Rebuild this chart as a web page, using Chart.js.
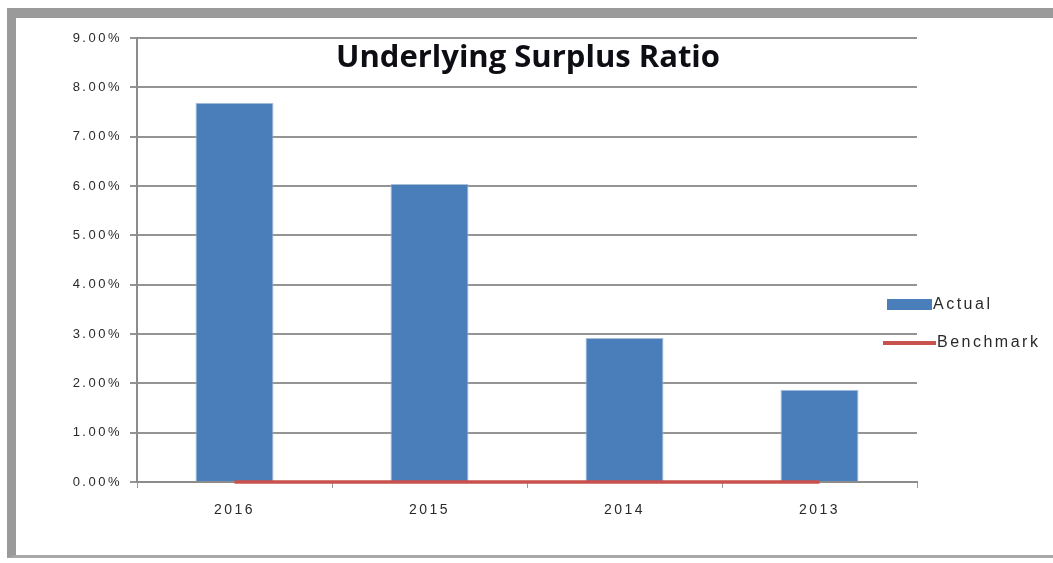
<!DOCTYPE html>
<html>
<head>
<meta charset="utf-8">
<script src="https://cdn.jsdelivr.net/npm/chart.js@4.4.1/dist/chart.umd.min.js"></script>
<style>
  html, body { margin: 0; padding: 0; background: #fff; }
  #wrap { position: relative; width: 1053px; height: 563px; }
  #frame {
    position: absolute; left: 7px; top: 8px; width: 1046px; height: 550px;
    box-sizing: border-box; pointer-events: none;
    border-top: 10px solid #9a9a9a; border-left: 9px solid #9a9a9a;
    border-bottom: 3px solid #a8a8a8; border-right: 0;
  }
</style>
</head>
<body>
<div id="wrap">
  <canvas id="surplusChart" width="1053" height="563"></canvas>
  <div id="frame"></div>
</div>
<script>
Chart.defaults.font.family = 'Liberation Sans, Arial, sans-serif';
Chart.defaults.color = '#2a2a2a';

// data
const years = ['2016', '2015', '2014', '2013'];
const actualData = [7.69, 6.04, 2.92, 1.87];
const benchmarkData = [0, 0, 0, 0];
const yTicks = [0, 1, 2, 3, 4, 5, 6, 7, 8, 9];
const chartTitle = 'Underlying Surplus Ratio';

// the scanned labels are widely spaced
const spacingPlugin = {
  id: 'spacing',
  beforeDraw(chart){ chart.ctx.letterSpacing = '2.5px'; }
};

// title sits inside the plot, over the top gridlines
const titlePlugin = {
  id: 'insideTitle',
  afterDraw(chart){
    const ctx = chart.ctx;
    const area = chart.chartArea;
    ctx.save();
    ctx.letterSpacing = '0px';
    ctx.font = 'bold 31px "Open Sans", sans-serif';
    ctx.fillStyle = '#0d0d14';
    ctx.textAlign = 'center';
    ctx.textBaseline = 'middle';
    ctx.fillText(chartTitle, (area.left + area.right) / 2 + 1, area.top + 20);
    ctx.restore();
  }
};

// legend on the right, overlapping the end of the gridlines
const legendPlugin = {
  id: 'sideLegend',
  afterDraw(chart){
    const ctx = chart.ctx;
    const sets = chart.data.datasets;
    ctx.save();
    ctx.letterSpacing = '2.5px';
    ctx.font = '16px "Liberation Sans", sans-serif';
    ctx.textBaseline = 'middle';
    // Actual
    ctx.fillStyle = sets[0].backgroundColor;
    ctx.fillRect(887, 299, 45, 11);
    ctx.fillStyle = '#2a2a2a';
    ctx.fillText(sets[0].label, 933, 305);
    // Benchmark
    ctx.strokeStyle = sets[1].borderColor;
    ctx.lineWidth = 4;
    ctx.beginPath();
    ctx.moveTo(883, 343);
    ctx.lineTo(936, 343);
    ctx.stroke();
    ctx.fillStyle = '#2a2a2a';
    ctx.fillText(sets[1].label, 937, 343);
    ctx.restore();
  }
};

const data = {
  labels: years,
  datasets: [{
    type: 'bar',
    label: 'Actual',
    data: actualData,
    backgroundColor: '#4a7ebb',
    borderColor: '#a9bfd9',
    borderWidth: 1,
    categoryPercentage: 1,
    barPercentage: 0.4,
    order: 2
  },
  {
    type: 'line',
    label: 'Benchmark',
    data: benchmarkData,
    borderColor: '#c8504d',
    borderWidth: 3.5,
    pointRadius: 0,
    fill: false,
    clip: false,
    order: 1
  }]
};

const options = {
  responsive: false,
  animation: false,
  layout: { padding: { left: 0, right: 136, top: 38, bottom: 0 } },
  plugins: {
    legend: { display: false },
    tooltip: { enabled: false }
  },
  scales: {
    x: {
      offset: true,
      grid: {
        display: true,
        offset: true,
        drawOnChartArea: false,
        tickLength: 6,
        color: '#999'
      },
      border: { color: '#8c8c8c', width: 2 },
      ticks: { font: { size: 14 }, padding: 14 },
      afterFit(scale){ scale.height = 81; }
    },
    y: {
      min: 0,
      max: 9,
      afterBuildTicks(scale){ scale.ticks = yTicks.map(v => ({ value: v })); },
      grid: { color: '#949494', lineWidth: 2, tickLength: 7 },
      border: { color: '#8c8c8c', width: 2 },
      ticks: {
        font: { size: 13 },
        padding: 8,
        callback: v => v.toFixed(2) + '%'
      },
      afterFit(scale){ scale.width = 137; }
    }
  }
};

const ctx = document.getElementById('surplusChart').getContext('2d');
const surplusChart = new Chart(ctx, {
  type: 'bar',
  data: data,
  options: options,
  plugins: [spacingPlugin, titlePlugin, legendPlugin]
});
</script>
</body>
</html>
